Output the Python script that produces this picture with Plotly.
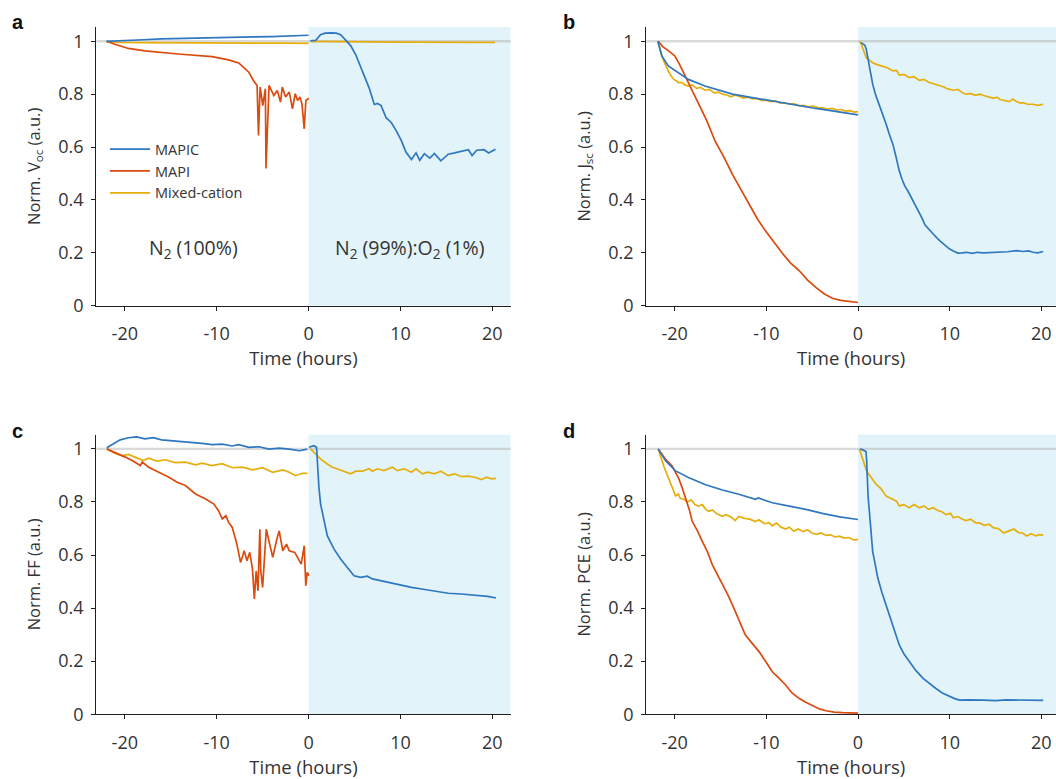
import plotly.graph_objects as go

# ---------------- data ----------------
series_names = ["MAPIC", "MAPI", "Mixed-cation"]
colors = {"MAPIC": "#2F77C0", "MAPI": "#DB4A0E", "Mixed-cation": "#E6AE0C"}
panel_letters = ["a", "b", "c", "d"]
y_titles = ["Norm. V<sub>oc</sub> (a.u.)", "Norm. J<sub>sc</sub> (a.u.)",
            "Norm. FF (a.u.)", "Norm. PCE (a.u.)"]
x_title = "Time (hours)"
x_ticks = [-20, -10, 0, 10, 20]
y_ticks = [0, 0.2, 0.4, 0.6, 0.8, 1]
y_ticklabels = ["0", "0.2", "0.4", "0.6", "0.8", "1"]
atm_labels = ["N<sub>2</sub> (100%)", "N<sub>2</sub> (99%):O<sub>2</sub> (1%)"]

# Panel a : Voc
a_mapic_pre_t = [-22, -20, -18, -16, -14, -12, -10, -8, -6, -4, -2, 0]
a_mapic_pre_v = [1.0, 1.002, 1.006, 1.009, 1.011, 1.012, 1.015, 1.016, 1.017, 1.018, 1.021, 1.023]
a_mapic_post_t = [0.2, 0.8, 1.3, 1.8, 2.4, 3.0, 3.5, 4.06, 4.6, 5.15, 5.7, 6.07, 6.6, 7.16, 7.5, 7.9,
                  8.44, 9.0, 9.54, 10.1, 10.6, 11.2, 11.7, 12.1, 12.6, 13.2, 13.7, 14.4, 15.2, 15.9,
                  16.7, 17.4, 17.8, 18.3, 19.1, 19.6, 20.35]
a_mapic_post_v = [1.002, 1.004, 1.025, 1.031, 1.032, 1.031, 1.025, 1.004, 0.983, 0.948, 0.898, 0.867,
                  0.823, 0.761, 0.765, 0.757, 0.711, 0.693, 0.662, 0.624, 0.581, 0.553, 0.578, 0.55,
                  0.575, 0.558, 0.576, 0.548, 0.573, 0.578, 0.585, 0.59, 0.568, 0.588, 0.59, 0.578, 0.592]
a_mapi_pre_t = [-21.96, -21.1, -19.6, -17.8, -14.2, -10.5, -8.7, -7.6, -7.1, -6.5, -6.0, -5.6, -5.45,
                -5.27, -4.98, -4.7, -4.63, -4.3, -3.78, -3.4, -3.05, -2.86, -2.5, -2.1, -1.75, -1.45,
                -1.2, -0.94, -0.72, -0.47, -0.29, 0.05]
a_mapi_pre_v = [1.0, 0.989, 0.973, 0.964, 0.952, 0.942, 0.93, 0.918, 0.902, 0.883, 0.852, 0.833, 0.644,
                0.827, 0.757, 0.821, 0.519, 0.833, 0.795, 0.814, 0.77, 0.827, 0.789, 0.808, 0.745, 0.802,
                0.776, 0.789, 0.764, 0.669, 0.776, 0.785]
a_mixed_pre_t = [-22, -21, -18, -14, -10, -6, -2, 0]
a_mixed_pre_v = [1.0, 0.996, 0.995, 0.995, 0.994, 0.994, 0.993, 0.992]
a_mixed_post_t = [0.3, 2, 4, 6, 8, 10, 12, 14, 16, 18, 20.3]
a_mixed_post_v = [1.0, 0.999, 0.998, 0.997, 0.998, 0.997, 0.997, 0.996, 0.997, 0.996, 0.996]

# Panel b : Jsc
b_mapic_pre_t = [-21.85, -21.4, -20.7, -19.9, -18.5, -16.7, -15.2, -13.7, -12.0, -10.1, -8.2, -6.4, -4.6, -2.8, 0]
b_mapic_pre_v = [1.0, 0.945, 0.907, 0.888, 0.856, 0.831, 0.815, 0.80, 0.79, 0.778, 0.766, 0.756, 0.746, 0.737, 0.722]
b_mapic_post_t = [0.33, 0.55, 0.75, 0.9, 1.05, 1.24, 1.45, 1.6, 1.9, 2.3, 2.7, 3.07, 3.4, 3.8, 4.1, 4.5,
                  4.8, 5.1, 5.5, 6.0, 6.4, 6.7, 7.0, 7.3, 7.8, 8.2, 8.9, 9.5, 10.0, 10.5, 10.9, 11.4,
                  11.8, 12.5, 13.0, 13.7, 14.5, 15.5, 16.3, 17.3, 18.0, 18.6, 19.1, 19.6, 20.2]
b_mapic_post_v = [0.995, 0.99, 0.985, 0.97, 0.94, 0.905, 0.865, 0.838, 0.80, 0.762, 0.725, 0.686, 0.65,
                  0.611, 0.57, 0.51, 0.478, 0.453, 0.43, 0.397, 0.37, 0.353, 0.33, 0.306, 0.285, 0.271,
                  0.246, 0.228, 0.214, 0.205, 0.199, 0.2, 0.202, 0.198, 0.202, 0.2, 0.201, 0.205, 0.204,
                  0.208, 0.205, 0.207, 0.202, 0.2, 0.205]
b_mapi_pre_t = [-21.8, -21.3, -20.7, -20.0, -19.5, -19.0, -18.5, -18.0, -17.3, -16.5, -15.6, -14.6,
                -13.7, -12.8, -11.9, -11.0, -10.1, -9.2, -8.3, -7.4, -6.4, -5.5, -4.6, -3.7, -2.8,
                -1.9, -0.95, 0]
b_mapi_pre_v = [1.0, 0.98, 0.965, 0.945, 0.915, 0.88, 0.845, 0.805, 0.76, 0.70, 0.623, 0.56, 0.497,
                0.44, 0.384, 0.33, 0.283, 0.24, 0.20, 0.163, 0.132, 0.097, 0.069, 0.045, 0.028, 0.02,
                0.015, 0.012]
b_mixed_pre_t = [-21.8, -21.5, -21.2, -20.9, -20.7, -20.4, -20.1, -19.8, -19.6, -19.2, -18.9, -18.5,
                 -18.1, -17.6, -17.2, -16.7, -16.2, -15.7, -15.2, -14.8, -14.3, -13.9, -13.4, -13.0,
                 -12.5, -12.0, -11.5, -11.0, -10.5, -10.1, -9.5, -9.0, -8.5, -8.0, -7.5, -7.0, -6.4,
                 -5.9, -5.4, -4.9, -4.4, -3.9, -3.4, -2.8, -2.3, -1.8, -1.4, -0.9, -0.4, 0]
b_mixed_pre_v = [1.0, 0.955, 0.926, 0.90, 0.888, 0.87, 0.856, 0.85, 0.844, 0.845, 0.835, 0.831, 0.835,
                 0.822, 0.826, 0.815, 0.818, 0.805, 0.808, 0.80, 0.797, 0.79, 0.797, 0.792, 0.785,
                 0.789, 0.782, 0.784, 0.776, 0.777, 0.772, 0.775, 0.766, 0.768, 0.762, 0.764, 0.756,
                 0.758, 0.752, 0.755, 0.749, 0.748, 0.744, 0.746, 0.74, 0.742, 0.736, 0.738, 0.732, 0.734]
b_mixed_post_t = [0.15, 0.35, 0.5, 0.7, 0.9, 1.2, 1.6, 2.1, 2.7, 3.2, 3.8, 4.2, 4.5, 5.0, 5.6, 6.1,
                  6.7, 7.2, 7.7, 8.2, 8.7, 9.3, 9.8, 10.4, 10.9, 11.4, 11.8, 12.3, 12.8, 13.3, 13.7,
                  14.2, 14.7, 15.2, 15.5, 16.0, 16.5, 16.9, 17.3, 17.7, 18.0, 18.5, 19.1, 19.6, 20.2]
b_mixed_post_v = [1.0, 0.99, 0.975, 0.955, 0.938, 0.93, 0.919, 0.912, 0.905, 0.90, 0.888, 0.89, 0.872,
                  0.875, 0.863, 0.866, 0.852, 0.856, 0.845, 0.84, 0.835, 0.828, 0.82, 0.815, 0.818,
                  0.805, 0.80, 0.802, 0.796, 0.80, 0.795, 0.79, 0.785, 0.788, 0.78, 0.776, 0.772, 0.782,
                  0.772, 0.766, 0.768, 0.762, 0.762, 0.758, 0.762]

# Panel c : FF
c_mapic_pre_t = [-21.96, -21.2, -20.5, -19.6, -18.7, -17.8, -16.9, -16.0, -14.9, -13.8, -12.7, -11.6,
                 -10.5, -9.4, -8.3, -7.6, -6.5, -5.4, -4.3, -3.2, -2.1, -1.0, -0.14]
c_mapic_pre_v = [1.004, 1.021, 1.034, 1.042, 1.045, 1.038, 1.042, 1.034, 1.031, 1.027, 1.024, 1.021,
                 1.016, 1.018, 1.011, 1.016, 1.006, 1.008, 0.999, 1.003, 0.999, 0.993, 0.999]
c_mapic_post_t = [0.04, 0.58, 0.87, 0.95, 1.13, 1.31, 1.67, 2.04, 2.76, 3.49, 4.22, 4.95, 5.68, 6.4,
                  6.95, 7.86, 8.95, 10.0, 11.2, 12.3, 13.7, 15.2, 16.6, 18.1, 19.5, 20.4]
c_mapic_post_v = [1.006, 1.012, 1.006, 0.943, 0.855, 0.792, 0.729, 0.673, 0.623, 0.585, 0.553, 0.522,
                  0.516, 0.52, 0.51, 0.503, 0.494, 0.485, 0.478, 0.472, 0.465, 0.456, 0.453, 0.449,
                  0.444, 0.438]
c_mapi_pre_t = [-21.96, -21.06, -19.96, -19.2, -18.3, -18.1, -17.4, -16.3, -15.2, -14.3, -13.4, -12.3,
                -11.2, -10.3, -9.8, -9.4, -9.0, -8.7, -8.3, -7.8, -7.4, -7.0, -6.7, -6.4, -6.1, -5.9,
                -5.7, -5.5, -5.3, -5.2, -5.0, -4.6, -4.3, -3.9, -3.5, -3.2, -2.8, -2.4, -2.1, -1.5,
                -1.2, -0.8, -0.47, -0.3, -0.14, 0.04]
c_mapi_pre_v = [1.0, 0.987, 0.969, 0.956, 0.937, 0.95, 0.931, 0.912, 0.893, 0.874, 0.862, 0.83, 0.811,
                0.792, 0.767, 0.736, 0.748, 0.723, 0.704, 0.641, 0.572, 0.616, 0.578, 0.61, 0.547,
                0.434, 0.54, 0.465, 0.697, 0.54, 0.478, 0.697, 0.653, 0.591, 0.653, 0.691, 0.616,
                0.641, 0.616, 0.61, 0.591, 0.566, 0.635, 0.484, 0.535, 0.522]
c_mixed_pre_t = [-21.96, -21.06, -20.3, -19.6, -18.9, -18.0, -17.4, -16.5, -15.6, -14.5, -13.4, -12.3,
                 -11.6, -10.5, -9.4, -8.3, -7.2, -6.1, -5.0, -3.9, -2.8, -2.1, -1.4, -0.65, -0.14]
c_mixed_pre_v = [1.0, 0.983, 0.975, 0.979, 0.969, 0.956, 0.965, 0.954, 0.959, 0.948, 0.95, 0.94, 0.946,
                 0.937, 0.944, 0.929, 0.931, 0.921, 0.929, 0.912, 0.921, 0.912, 0.899, 0.908, 0.908]
c_mixed_post_t = [0.22, 0.76, 1.3, 2.04, 2.58, 3.1, 3.85, 4.58, 5.13, 5.85, 6.58, 6.95, 7.5, 8.2, 9.13,
                  9.7, 10.4, 11.2, 11.7, 12.4, 13.0, 13.7, 14.4, 15.2, 15.9, 16.6, 17.4, 18.1, 18.8,
                  19.4, 19.9, 20.4]
c_mixed_post_v = [1.0, 0.981, 0.962, 0.943, 0.931, 0.925, 0.916, 0.906, 0.916, 0.916, 0.925, 0.916,
                  0.925, 0.918, 0.931, 0.918, 0.925, 0.912, 0.925, 0.906, 0.912, 0.906, 0.916, 0.899,
                  0.906, 0.896, 0.897, 0.893, 0.884, 0.893, 0.887, 0.889]

# Panel d : PCE
d_mapic_pre_t = [-21.8, -21.0, -19.9, -18.5, -16.7, -14.8, -13.0, -11.2, -10.9, -9.35, -7.5, -5.7, -3.9, -2.0, 0]
d_mapic_pre_v = [1.0, 0.955, 0.917, 0.892, 0.866, 0.845, 0.829, 0.81, 0.815, 0.797, 0.784, 0.772, 0.757, 0.744, 0.734]
d_mapic_post_t = [0.26, 0.6, 0.88, 0.95, 1.0, 1.1, 1.24, 1.4, 1.6, 1.9, 2.16, 2.6, 3.07, 3.4, 3.8, 4.1,
                  4.5, 5.0, 5.6, 6.3, 7.1, 7.8, 8.5, 9.2, 10.0, 10.6, 11.1, 12.0, 13.7, 15.0, 16.2,
                  18.0, 19.0, 20.2]
d_mapic_post_v = [1.0, 0.995, 0.99, 0.95, 0.892, 0.82, 0.765, 0.69, 0.614, 0.56, 0.513, 0.46, 0.412,
                  0.375, 0.337, 0.30, 0.261, 0.228, 0.198, 0.165, 0.135, 0.115, 0.097, 0.08, 0.066,
                  0.058, 0.053, 0.054, 0.053, 0.051, 0.054, 0.052, 0.053, 0.052]
d_mapi_pre_t = [-21.8, -21.0, -20.3, -19.6, -19.2, -18.8, -18.4, -18.1, -17.5, -17.0, -16.4, -15.9,
                -15.3, -14.8, -14.2, -13.7, -13.0, -12.3, -11.5, -10.8, -10.0, -9.35, -8.6, -7.9, -7.2,
                -6.4, -5.7, -5.0, -4.2, -3.5, -2.6, -1.7, 0]
d_mapi_pre_v = [1.0, 0.961, 0.936, 0.892, 0.855, 0.816, 0.77, 0.728, 0.69, 0.652, 0.61, 0.564, 0.525,
                0.488, 0.45, 0.412, 0.355, 0.299, 0.265, 0.236, 0.195, 0.16, 0.135, 0.11, 0.08, 0.059,
                0.045, 0.032, 0.02, 0.013, 0.008, 0.006, 0.004]
d_mixed_pre_t = [-21.8, -21.2, -20.7, -20.3, -19.9, -19.6, -19.4, -19.0, -18.6, -18.2, -17.8, -17.4,
                 -17.0, -16.6, -16.3, -15.9, -15.4, -14.8, -14.4, -13.8, -13.4, -13.0, -12.4, -11.8,
                 -11.2, -10.8, -10.2, -9.7, -9.35, -8.9, -8.4, -7.9, -7.5, -7.0, -6.5, -6.0, -5.5,
                 -5.0, -4.5, -4.0, -3.5, -3.0, -2.5, -2.0, -1.5, -1.0, -0.5, 0]
d_mixed_pre_v = [1.0, 0.936, 0.892, 0.854, 0.823, 0.83, 0.814, 0.81, 0.80, 0.808, 0.79, 0.784, 0.79,
                 0.772, 0.765, 0.77, 0.755, 0.746, 0.752, 0.742, 0.73, 0.745, 0.738, 0.735, 0.726,
                 0.733, 0.718, 0.722, 0.71, 0.72, 0.705, 0.698, 0.705, 0.69, 0.698, 0.688, 0.695,
                 0.682, 0.678, 0.683, 0.674, 0.676, 0.668, 0.671, 0.664, 0.666, 0.657, 0.658]
d_mixed_post_t = [0.15, 0.4, 0.7, 0.9, 1.06, 1.5, 2.0, 2.5, 3.07, 3.5, 4.2, 4.5, 5.0, 5.6, 6.1, 6.7,
                  7.2, 7.7, 8.2, 8.7, 9.2, 9.6, 10.1, 10.4, 10.9, 11.4, 11.8, 12.3, 12.8, 13.3, 13.8,
                  14.3, 14.8, 15.3, 15.9, 16.4, 17.0, 17.5, 18.0, 18.4, 18.9, 19.4, 19.8, 20.2]
d_mixed_post_v = [1.0, 0.97, 0.942, 0.92, 0.91, 0.89, 0.866, 0.85, 0.822, 0.815, 0.803, 0.785, 0.79,
                  0.778, 0.79, 0.778, 0.785, 0.772, 0.778, 0.768, 0.762, 0.752, 0.757, 0.74, 0.745,
                  0.735, 0.73, 0.735, 0.722, 0.72, 0.712, 0.716, 0.702, 0.70, 0.683, 0.69, 0.698,
                  0.685, 0.682, 0.672, 0.68, 0.672, 0.677, 0.675]

panels = [
    {"MAPIC": [(a_mapic_pre_t, a_mapic_pre_v), (a_mapic_post_t, a_mapic_post_v)],
     "MAPI": [(a_mapi_pre_t, a_mapi_pre_v)],
     "Mixed-cation": [(a_mixed_pre_t, a_mixed_pre_v), (a_mixed_post_t, a_mixed_post_v)]},
    {"MAPIC": [(b_mapic_pre_t, b_mapic_pre_v), (b_mapic_post_t, b_mapic_post_v)],
     "MAPI": [(b_mapi_pre_t, b_mapi_pre_v)],
     "Mixed-cation": [(b_mixed_pre_t, b_mixed_pre_v), (b_mixed_post_t, b_mixed_post_v)]},
    {"MAPIC": [(c_mapic_pre_t, c_mapic_pre_v), (c_mapic_post_t, c_mapic_post_v)],
     "MAPI": [(c_mapi_pre_t, c_mapi_pre_v)],
     "Mixed-cation": [(c_mixed_pre_t, c_mixed_pre_v), (c_mixed_post_t, c_mixed_post_v)]},
    {"MAPIC": [(d_mapic_pre_t, d_mapic_pre_v), (d_mapic_post_t, d_mapic_post_v)],
     "MAPI": [(d_mapi_pre_t, d_mapi_pre_v)],
     "Mixed-cation": [(d_mixed_pre_t, d_mixed_pre_v), (d_mixed_post_t, d_mixed_post_v)]},
]

# ---------------- layout ----------------
W, H = 1056, 791
REF_H = 779
FONT = "Open Sans"
TXT = "#333333"


def py(px):
    """row in the 779-high target picture -> paper fraction"""
    return 1 - px / REF_H


x_domains = [[0.0912, 0.4836], [0.612, 1.0], [0.0912, 0.4836], [0.612, 1.0]]
y_domains = [[py(305.3), py(27.0)], [py(305.3), py(27.0)],
             [py(713.3), py(434.0)], [py(713.3), py(434.0)]]
x_ranges = [[-23.1, 22.0], [-23.1, 21.6], [-23.1, 22.0], [-23.1, 21.6]]
y_range = [0, 1.054]

fig = go.Figure()
shapes = []
annotations = []
draw_order = ["Mixed-cation", "MAPI", "MAPIC"]
legend_order = {"MAPIC": 1, "MAPI": 2, "Mixed-cation": 3}

for i, pdata in enumerate(panels):
    sfx = "" if i == 0 else str(i + 1)
    xa, ya = "x" + sfx, "y" + sfx
    for name in draw_order:
        for j, (t, v) in enumerate(pdata[name]):
            fig.add_trace(go.Scatter(
                x=t, y=v, mode="lines", name=name, xaxis=xa, yaxis=ya,
                line=dict(color=colors[name], width=1.7),
                legendgroup=name, legendrank=legend_order[name],
                showlegend=(i == 0 and j == 0), hoverinfo="skip"))
    ax_common = dict(showgrid=False, zeroline=False, showline=True, linecolor="#231F20",
                     linewidth=1.3, ticks="outside", ticklen=4, tickwidth=1.2,
                     tickcolor="#231F20", tickfont=dict(family=FONT, size=18, color=TXT))
    fig.layout["xaxis" + sfx] = dict(
        ax_common, domain=x_domains[i], range=x_ranges[i], anchor=ya,
        tickvals=x_ticks, ticktext=[str(v) for v in x_ticks], ticklabelstandoff=8,
        title=dict(text=x_title, font=dict(family=FONT, size=18.5, color=TXT), standoff=6))
    fig.layout["yaxis" + sfx] = dict(
        ax_common, domain=y_domains[i], range=y_range, anchor=xa,
        tickvals=y_ticks, ticktext=y_ticklabels, ticklabelstandoff=4,
        title=dict(text=y_titles[i], font=dict(family=FONT, size=16.5, color=TXT), standoff=13))
    shapes.append(dict(type="rect", xref=xa, yref=ya + " domain", x0=0, x1=x_ranges[i][1],
                       y0=0, y1=1, fillcolor="#E2F4F9", line=dict(width=0), layer="below"))
    shapes.append(dict(type="line", xref=xa + " domain", yref=ya, x0=0, x1=1, y0=1, y1=1,
                       line=dict(color="rgba(170,170,170,0.45)", width=2.4), layer="below"))
    lx = 0.009 if i % 2 == 0 else 0.531
    ly = py(9) if i < 2 else py(417)
    annotations.append(dict(text="<b>" + panel_letters[i] + "</b>", xref="paper", yref="paper",
                            x=lx, y=ly, xanchor="left", yanchor="top", showarrow=False,
                            font=dict(family="Liberation Sans", size=20, color="#111111")))

annotations.append(dict(text=atm_labels[0], xref="x", yref="y", x=-12.5, y=0.215,
                        showarrow=False, font=dict(family=FONT, size=19.5, color=TXT)))
annotations.append(dict(text=atm_labels[1], xref="x", yref="y", x=11.0, y=0.215,
                        showarrow=False, font=dict(family=FONT, size=19.5, color=TXT)))

fig.update_layout(
    width=W, height=H, margin=dict(l=0, r=0, t=0, b=0),
    paper_bgcolor="white", plot_bgcolor="white",
    shapes=shapes, annotations=annotations,
    legend=dict(x=0.0994, y=py(133), xanchor="left", yanchor="top", bgcolor="rgba(0,0,0,0)",
                font=dict(family=FONT, size=14.5, color=TXT), tracegroupgap=0, itemwidth=40),
    showlegend=True,
)

fig.write_html("out.html", config={"displayModeBar": False},
               post_script="document.body.style.margin='0px';document.body.style.overflow='hidden';")
